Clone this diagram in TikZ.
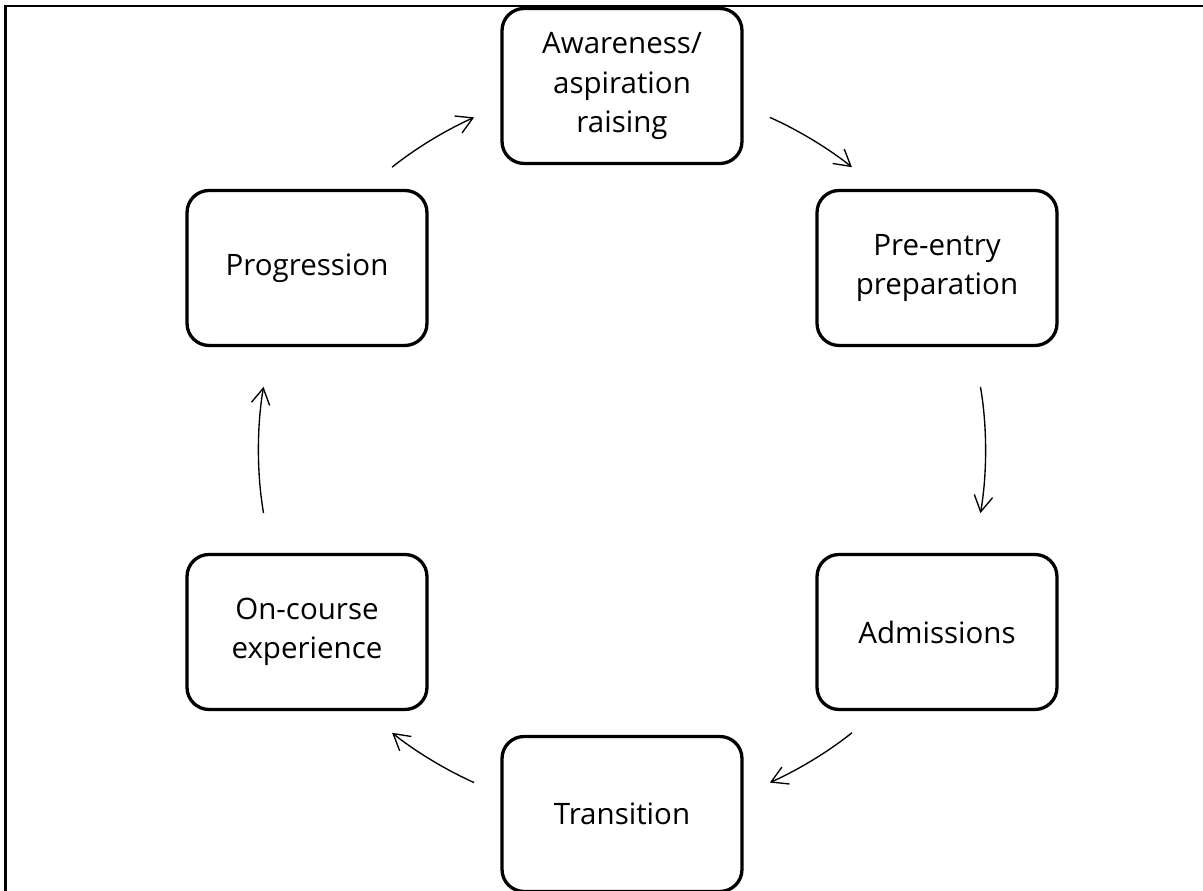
\documentclass[tikz,border=0pt]{standalone}
\usepackage{fontspec}
\setmainfont{Open Sans}
\usetikzlibrary{arrows.meta}

\begin{document}
\begin{tikzpicture}[
    x=0.02cm, y=0.02cm,
    stage/.style={rectangle, draw, line width=0.066cm, rounded corners=0.44cm, minimum width=4.8cm, minimum height=3.1cm, align=center, inner sep=0pt, outer sep=0pt, font=\fontsize{16.8}{22.3}\selectfont},
    flow/.style={-{Straight Barb[length=0.32cm, width=0.37cm]}, line width=0.027cm},
    frame/.style={draw, line width=0.045cm}
]
\useasboundingbox (0,0) rectangle (1203,891);
\clip (0,0) rectangle (1203,891);

% Frame
\draw[frame] (5.5,-20) rectangle (1240,885);

% Nodes
\node[stage] (aware) at (622,805) {Awareness/\\aspiration\\raising};
\node[stage] (pre) at (937,623) {Pre-entry\\preparation};
\node[stage] (adm) at (937,259) {Admissions};
\node[stage] (trans) at (622,77) {Transition};
\node[stage] (onc) at (307,259) {On-course\\experience};
\node[stage] (prog) at (307,623) {Progression};

% Edges
\draw[flow, shorten <=0.61cm, shorten >=0.74cm] (aware.-9) to[out=-24, in=141] (pre.126);
\draw[flow, shorten <=0.84cm, shorten >=0.84cm] (pre.-65) to[out=-80, in=80] (adm.65);
\draw[flow, shorten <=0.74cm, shorten >=0.61cm] (adm.-126) to[out=-141, in=24] (trans.9);
\draw[flow, shorten <=0.61cm, shorten >=0.74cm] (trans.171) to[out=156, in=-39] (onc.-54);
\draw[flow, shorten <=0.84cm, shorten >=0.84cm] (onc.115) to[out=100, in=-100] (prog.-115);
\draw[flow, shorten <=0.74cm, shorten >=0.61cm] (prog.54) to[out=39, in=-156] (aware.189);

\end{tikzpicture}
\end{document}
